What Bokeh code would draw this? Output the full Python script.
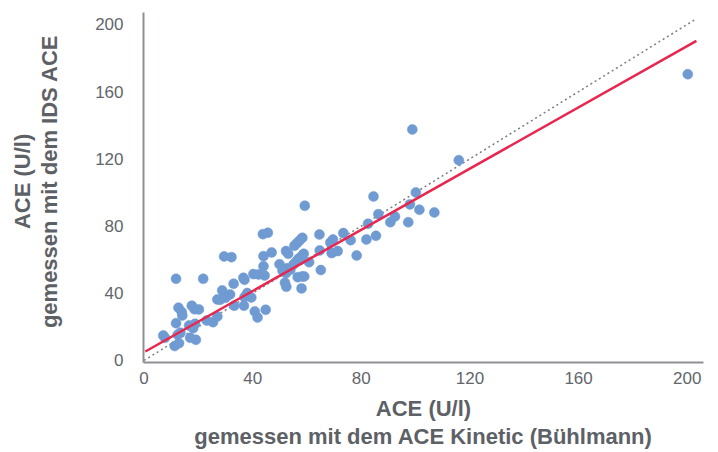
from bokeh.plotting import figure
from bokeh.models import Range1d, LinearAxis, FixedTicker
from bokeh.embed import file_html
from bokeh.resources import INLINE

# Measured values (ACE Kinetic, IDS ACE) in U/l
ace_kinetic = [59.2, 43.8, 45.6, 64.6, 69.6, 68.6, 73.4, 76.1, 81.9, 85.4,
               82.5, 86.3, 58.3, 57.3, 56.3, 55.4, 52.3, 53.1, 58.8, 57.9,
               56.9, 47.0, 44.0, 64.7, 69.1, 71.3, 78.3, 60.8, 49.9, 52.7,
               53.9, 52.3, 56.1, 55.1, 65.1, 44.0, 29.5, 32.2, 11.8, 21.8,
               36.6, 37.0, 40.3, 42.2, 44.4, 56.6, 58.2, 59.0, 51.9, 52.4,
               58.0, 33.0, 28.8, 31.7, 27.0, 28.0, 30.0, 38.0, 37.0, 39.5,
               33.2, 36.8, 40.8, 41.8, 44.8, 12.7, 13.9, 14.1, 17.6, 18.6,
               20.2, 11.8, 16.6, 18.1, 18.8, 23.1, 25.4, 27.0, 13.4, 12.4,
               7.1, 7.7, 17.0, 19.1, 11.3, 12.9, 98.8, 115.9, 84.5, 100.1,
               97.9, 92.4, 90.7, 101.4, 106.9, 97.3, 200.2, 51.0, 57.5]
ids_ace = [92.1, 75.2, 76.0, 75.0, 72.0, 70.2, 75.8, 71.6, 72.0, 74.2,
           81.4, 87.1, 73.0, 71.4, 69.8, 68.3, 65.1, 63.5, 63.5, 61.9,
           60.5, 64.3, 62.1, 65.5, 63.9, 65.1, 62.5, 58.5, 57.3, 54.9,
           54.0, 52.0, 58.9, 57.3, 53.8, 56.1, 61.9, 61.5, 48.6, 48.6,
           49.2, 48.0, 51.4, 51.2, 50.6, 49.6, 50.0, 50.0, 46.3, 43.9,
           42.9, 45.7, 41.7, 39.3, 36.3, 36.1, 37.3, 40.1, 37.7, 37.5,
           32.6, 32.6, 29.2, 25.6, 30.2, 31.4, 28.8, 26.8, 32.6, 30.5,
           30.4, 22.2, 20.8, 19.2, 21.8, 23.8, 22.8, 26.2, 16.5, 15.3,
           14.9, 13.5, 13.5, 12.3, 8.6, 10.3, 137.5, 119.2, 97.6, 100.0,
           92.9, 85.7, 82.3, 89.7, 88.1, 82.3, 170.4, 53.5, 59.8]

x_ticks = [0, 40, 80, 120, 160, 200]
y_ticks = [0, 40, 80, 120, 160, 200]

x_title = ["ACE (U/l)", "gemessen mit dem ACE Kinetic (Bühlmann)"]
y_title = ["ACE (U/l)", "gemessen mit dem IDS ACE"]

# Regression and identity lines
reg_slope = 0.911
reg_intercept = 4.9
line_x = [0.5, 203.4]
reg_y = [reg_slope * v + reg_intercept for v in line_x]
ident_x = [0.0, 203.4]
ident_y = [0.0, 203.4]

label_color = "#62666b"
title_color = "#5d6166"

p = figure(width=718, height=452, output_backend="svg", toolbar_location=None,
           x_range=Range1d(-0.18, 206.0), y_range=Range1d(-1.2, 207.1),
           min_border_left=143, min_border_right=15, min_border_top=12,
           min_border_bottom=90)
p.outline_line_color = None
p.grid.visible = False
p.background_fill_color = "white"

NBSP = "\u00a0"


def style_title(ax, text, standoff):
    ax.axis_label = text
    ax.axis_label_standoff = standoff
    ax.axis_label_text_font = "Liberation Sans"
    ax.axis_label_text_font_style = "bold"
    ax.axis_label_text_font_size = "22px"
    ax.axis_label_text_color = title_color


for ax in (p.xaxis[0], p.yaxis[0]):
    ax.axis_line_color = "#8c8f93"
    ax.axis_line_width = 2
    ax.major_tick_line_color = None
    ax.minor_tick_line_color = None
    ax.major_tick_out = 0
    ax.major_tick_in = 0
    ax.major_label_text_font = "Liberation Sans"
    ax.major_label_text_font_size = "17px"
    ax.major_label_text_color = label_color

p.xaxis[0].ticker = x_ticks
p.yaxis[0].ticker = y_ticks
p.xaxis[0].major_label_standoff = 9
p.yaxis[0].major_label_standoff = 20
style_title(p.xaxis[0], x_title[0], 9)
# leading no-break spaces nudge the rotated title slightly upwards, as in the reference
style_title(p.yaxis[0], NBSP * 2 + y_title[1], 30)


def title_axis(text, standoff):
    ax = LinearAxis(ticker=FixedTicker(ticks=[]))
    ax.axis_line_color = None
    ax.major_tick_line_color = None
    ax.minor_tick_line_color = None
    ax.major_tick_out = 0
    ax.major_tick_in = 0
    ax.major_label_standoff = 0
    ax.major_label_text_font_size = "0px"
    style_title(ax, text, standoff)
    return ax


p.add_layout(title_axis(x_title[1], 0), "below")
p.add_layout(title_axis(NBSP * 2 + y_title[0], 0), "left")

p.line(ident_x, ident_y, line_color="#7a7d82", line_width=1.5, line_dash="2 3")
p.scatter(ace_kinetic, ids_ace, size=10, fill_color="#6f9bd2",
          line_color="#6f9bd2", line_width=0.5)
p.line(line_x, reg_y, line_color="#e8264f", line_width=2.5)

open("out.html", "w").write(file_html(p, INLINE))
